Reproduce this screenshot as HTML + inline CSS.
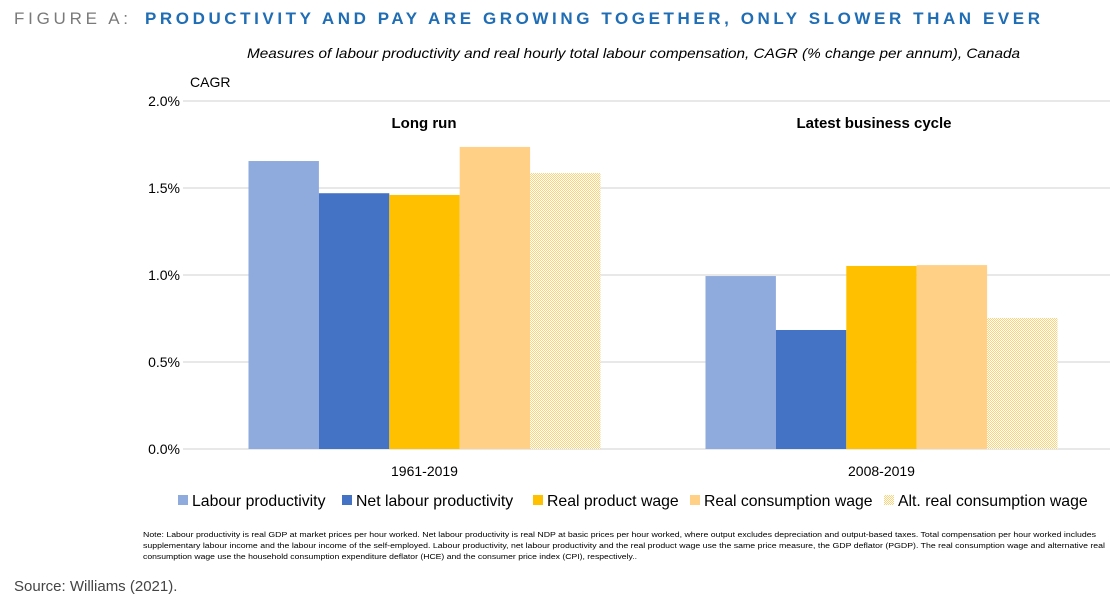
<!DOCTYPE html>
<html><head><meta charset="utf-8"><style>
html,body{margin:0;padding:0;background:#fff;}
body{width:1113px;height:598px;overflow:hidden;font-family:"Liberation Sans",sans-serif;}
</style></head><body>
<svg width="1113" height="598" viewBox="0 0 1113 598" xmlns="http://www.w3.org/2000/svg">
<defs>
<pattern id="dots" width="2" height="2" patternUnits="userSpaceOnUse">
<rect width="2" height="2" fill="#fff"/>
<rect width="1" height="1" fill="#fdd07a"/>
<rect x="1" y="1" width="1" height="1" fill="#fdd07a"/>
</pattern>
</defs>
<g>
<text x="14" y="24" font-size="17" fill="#7a7a7a" textLength="114" lengthAdjust="spacing">FIGURE A:</text>
<text x="145" y="24" font-size="17" fill="#1f6db5" font-weight="bold" textLength="895" lengthAdjust="spacing">PRODUCTIVITY AND PAY ARE GROWING TOGETHER, ONLY SLOWER THAN EVER</text>
</g>
<text x="247" y="58" font-size="14" font-style="italic" fill="#000" textLength="773" lengthAdjust="spacingAndGlyphs">Measures of labour productivity and real hourly total labour compensation, CAGR (% change per annum), Canada</text>
<text x="190" y="87" font-size="14" fill="#000">CAGR</text>
<g id="grid"></g>
<g id="yticks"></g>
<g id="bars"></g>
<g id="xlabels"></g>
<text x="424" y="128" font-size="15" font-weight="bold" text-anchor="middle">Long run</text>
<text x="874" y="128" font-size="15" font-weight="bold" text-anchor="middle">Latest business cycle</text>
<g id="legend"></g>
<g font-size="7.6" fill="#000">
<text x="143" y="537" textLength="953" lengthAdjust="spacingAndGlyphs">Note: Labour productivity is real GDP at market prices per hour worked. Net labour productivity is real NDP at basic prices per hour worked, where output excludes depreciation and output-based taxes. Total compensation per hour worked includes</text>
<text x="143" y="548" textLength="962" lengthAdjust="spacingAndGlyphs">supplementary labour income and the labour income of the self-employed. Labour productivity, net labour productivity and the real product wage use the same price measure, the GDP deflator (PGDP). The real consumption wage and alternative real</text>
<text x="143" y="559" textLength="494" lengthAdjust="spacingAndGlyphs">consumption wage use the household consumption expenditure deflator (HCE) and the consumer price index (CPI), respectively..</text>
</g>
<text x="14" y="591" font-size="15" fill="#444">Source:  Williams (2021).</text>
</svg>
<script>
const categories = ["1961-2019", "2008-2019"];
const seriesNames = ["Labour productivity","Net labour productivity","Real product wage","Real consumption wage","Alt. real consumption wage"];
const labourProductivity = [1.655, 0.994];
const netLabourProductivity = [1.47, 0.684];
const realProductWage = [1.46, 1.052];
const realConsumptionWage = [1.736, 1.057];
const altRealConsumptionWage = [1.586, 0.753];
const yTicks = [0, 0.5, 1.0, 1.5, 2.0];
const yTickLabels = ["0.0%","0.5%","1.0%","1.5%","2.0%"];

const NS="http://www.w3.org/2000/svg";
const series=[labourProductivity,netLabourProductivity,realProductWage,realConsumptionWage,altRealConsumptionWage];
const fills=["#8faadc","#4472c4","#ffc000","#ffd086","url(#dots)"];
const y0=449, yTop=101, yMax=2.0;
const y=v=>y0-(v/yMax)*(y0-yTop);
const plotL=196, plotR=1110;
const band=(plotR-plotL)/categories.length;
const cx=i=>plotL+band*(i+0.5);
const barW=70.4;
function mk(tag,attrs,parent){const e=document.createElementNS(NS,tag);for(const k in attrs)e.setAttribute(k,attrs[k]);parent.appendChild(e);return e;}
const grid=document.getElementById('grid'), yt=document.getElementById('yticks');
yTicks.forEach((t,i)=>{
  const l=mk('line',{x1:183,x2:1110,y1:y(t),y2:y(t),stroke:'#d9d9d9','stroke-width':1.3},grid);
  
  
  const tx=mk('text',{x:180,y:y(t)+5,'font-size':14,'text-anchor':'end'},yt);
  tx.textContent=yTickLabels[i];
  
  
});
const bars=document.getElementById('bars');
categories.forEach((c,ci)=>{
  series.forEach((s,si)=>{
    const x=cx(ci)-barW*series.length/2+si*barW;
    const r=mk('rect',{x:x,y:y(s[ci]),width:barW,height:y0-y(s[ci]),fill:fills[si]},bars);
    
    
  });
  const t=mk('text',{x:cx(ci),y:476,'font-size':14,'text-anchor':'middle'},document.getElementById('xlabels'));
  t.textContent=c;
  
  
});
const lg=document.getElementById('legend');
const lx=[178,342,533,690,884];
seriesNames.forEach((n,i)=>{
  const r=mk('rect',{x:lx[i],y:495,width:10,height:10,fill:fills[i]},lg);
  
  
  const t=mk('text',{x:lx[i]+14,y:506,'font-size':15.8},lg);
  t.textContent=n;
  
  
});
</script>
</body></html>
